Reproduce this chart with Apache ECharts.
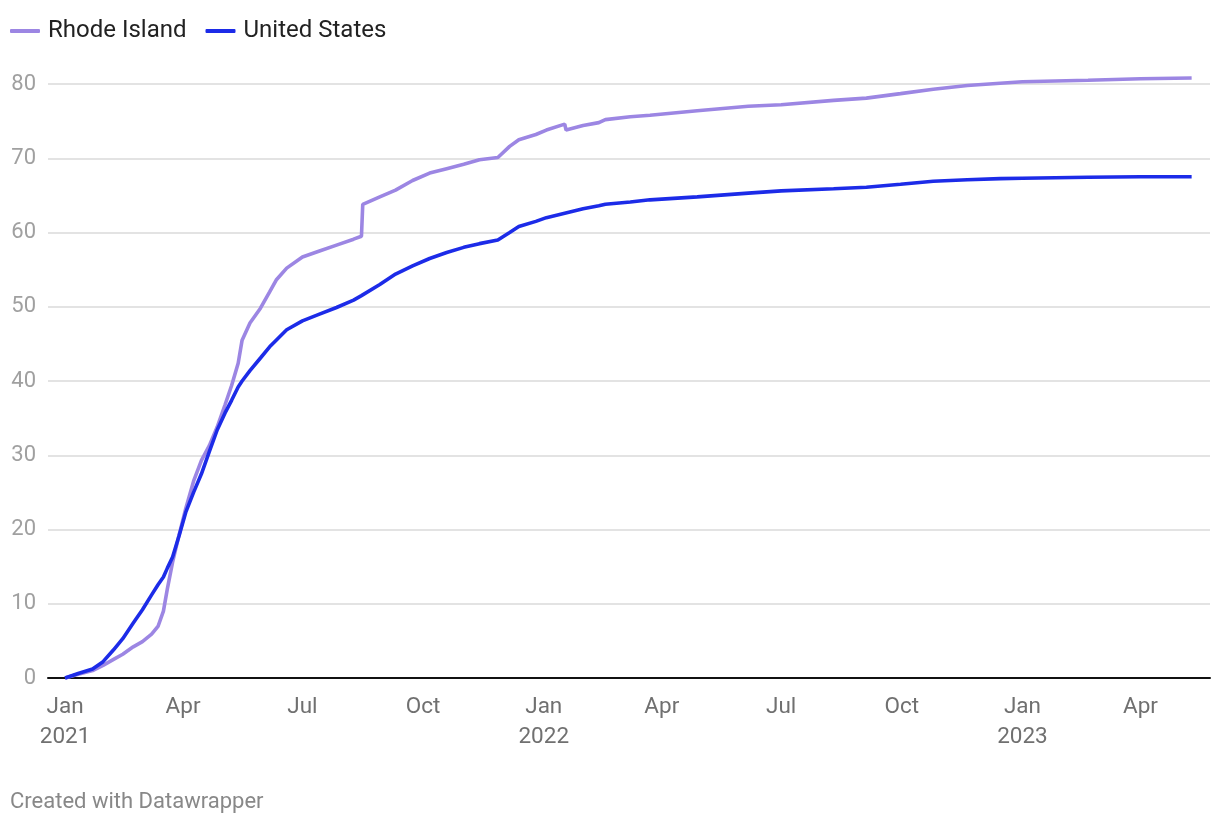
<!DOCTYPE html>
<html>
<head>
<meta charset="utf-8">
<script src="https://cdn.jsdelivr.net/npm/echarts@6/dist/echarts.min.js"></script>
<style>
html,body{margin:0;padding:0;background:#fff;}
#chart{width:1220px;height:826px;}
</style>
</head>
<body>
<div id="chart"></div>
<script>
const dates = [
  '2021-01-01','2021-01-11','2021-01-22','2021-01-30','2021-02-07','2021-02-14','2021-02-22',
  '2021-03-01','2021-03-08','2021-03-13','2021-03-17','2021-03-20','2021-03-24','2021-03-29',
  '2021-04-03','2021-04-09','2021-04-15','2021-04-21','2021-04-27','2021-05-03','2021-05-08',
  '2021-05-13','2021-05-16','2021-05-22','2021-05-30','2021-06-06','2021-06-11','2021-06-19',
  '2021-07-01','2021-07-14','2021-07-27','2021-08-09','2021-08-15','2021-08-16','2021-08-29',
  '2021-09-10','2021-09-23','2021-10-06','2021-10-19','2021-11-01','2021-11-13','2021-11-27',
  '2021-12-06','2021-12-13','2021-12-26','2022-01-03','2022-01-17','2022-01-18','2022-01-31',
  '2022-02-12','2022-02-17','2022-03-08','2022-03-23','2022-04-28','2022-06-06','2022-07-01',
  '2022-08-10','2022-09-04','2022-09-30','2022-10-25','2022-11-20','2022-12-15','2023-01-01',
  '2023-02-20','2023-04-01','2023-05-10'
];
const rhodeIsland = [
  0.0,0.5,1.0,1.7,2.5,3.2,4.2,
  4.9,5.9,7.0,9.0,12.0,15.6,19.3,
  22.8,26.5,29.3,31.3,33.8,36.8,39.4,
  42.4,45.5,47.8,49.8,52.0,53.6,55.2,
  56.7,57.5,58.3,59.1,59.5,63.8,64.8,
  65.7,67.0,68.0,68.6,69.2,69.8,70.1,
  71.6,72.5,73.2,73.8,74.6,73.8,74.4,
  74.8,75.2,75.6,75.8,76.4,77.0,77.2,
  77.8,78.1,78.7,79.3,79.8,80.1,80.3,
  80.5,80.7,80.8
];
const unitedStates = [
  0.0,0.6,1.2,2.2,3.8,5.3,7.4,
  9.2,11.2,12.6,13.6,14.8,16.3,19.2,
  22.3,25.0,27.5,30.5,33.4,35.7,37.4,
  39.2,40.0,41.4,43.1,44.6,45.5,46.9,
  48.1,49.0,49.9,50.9,51.5,51.6,53.0,
  54.4,55.5,56.5,57.3,58.0,58.5,59.0,
  60.0,60.8,61.5,62.0,62.6,62.6,63.2,
  63.6,63.8,64.1,64.4,64.8,65.3,65.6,
  65.9,66.1,66.5,66.9,67.1,67.25,67.3,
  67.45,67.5,67.5
];
const seriesNames = ['Rhode Island','United States'];
const xTickDates = ['2021-01-01','2021-04-01','2021-07-01','2021-10-01','2022-01-01','2022-04-01','2022-07-01','2022-10-01','2023-01-01','2023-04-01'];
const monthNames = ['Jan','Feb','Mar','Apr','May','Jun','Jul','Aug','Sep','Oct','Nov','Dec'];

const toTs = s => { const p = s.split('-').map(Number); return Date.UTC(p[0], p[1]-1, p[2]); };
const tickTs = xTickDates.map(toTs);

const chart = echarts.init(document.getElementById('chart'), null, {renderer:'canvas'});
const font = 'Roboto, "Noto Sans", sans-serif';
chart.setOption({
  animation:false,
  backgroundColor:'#ffffff',
  textStyle:{fontFamily:font},
  legend:{
    left:10, top:19, padding:0,
    itemWidth:30, itemHeight:4, itemGap:19,
    icon:'roundRect',
    textStyle:{fontSize:24, color:'#222222', fontFamily:font, padding:[0,0,0,3]},
    data:seriesNames
  },
  grid:{left:48, right:10, top:84, bottom:148, containLabel:false},
  xAxis:{
    type:'value',
    min:toTs('2020-12-19'),
    max:toTs('2023-05-24'),
    axisLine:{show:true, onZero:true, lineStyle:{color:'#111111', width:2}},
    axisTick:{show:false},
    splitLine:{show:false},
    axisLabel:{
      customValues:tickTs,
      fontSize:22.5, color:'#707070', fontFamily:font, lineHeight:30, margin:14,
      formatter:function(v){
        const d = new Date(v);
        const m = monthNames[d.getUTCMonth()];
        return d.getUTCMonth()===0 ? m + '\n' + d.getUTCFullYear() : m;
      }
    }
  },
  yAxis:{
    type:'value', min:0, max:80, interval:10,
    axisLine:{show:false}, axisTick:{show:false},
    splitLine:{show:true, lineStyle:{color:'#e3e3e3', width:2}},
    axisLabel:{fontSize:22, color:'#a0a0a0', fontFamily:font, margin:12}
  },
  series:[
    {
      name:seriesNames[0], type:'line', showSymbol:false, symbol:'none', clip:false,
      itemStyle:{color:'#9c86e3'},
      lineStyle:{color:'#9c86e3', width:3.6},
      data:dates.map((d,i)=>[toTs(d), rhodeIsland[i]]),
      z:2
    },
    {
      name:seriesNames[1], type:'line', showSymbol:false, symbol:'none', clip:false,
      itemStyle:{color:'#1c2be8'},
      lineStyle:{color:'#1c2be8', width:3.6},
      data:dates.map((d,i)=>[toTs(d), unitedStates[i]]),
      z:3
    }
  ],
  graphic:[
    {type:'text', left:10, top:791, style:{text:'Created with Datawrapper', fill:'#888888', font:'22px ' + font}}
  ]
});
</script>
</body>
</html>
